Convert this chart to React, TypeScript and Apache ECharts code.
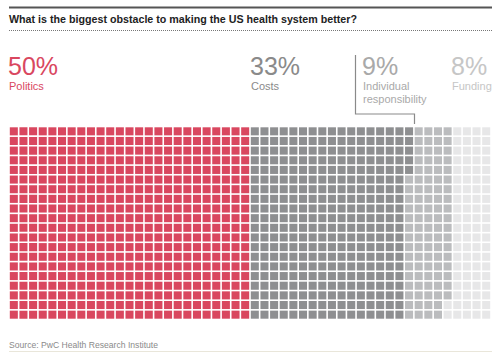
import React, { useEffect, useRef } from "react";
import * as echarts from "echarts";

const TITLE = "What is the biggest obstacle to making the US health system better?";
const SOURCE = "Source: PwC Health Research Institute";
const percents = ["50%", "33%", "9%", "8%"];
const labels = ["Politics", "Costs", "Individual\nresponsibility", "Funding"];
const cellCounts = [500, 325, 93, 82];
const cellColors = ["#d9475f", "#8e8f91", "#bbbcbe", "#e7e7e8"];
const textColors = ["#d9475f", "#8a8a8a", "#a9a9a9", "#c6c6c6"];
const labelX = [9, 251, 363, 452];
const COLS = 50;
const ROWS = 20;

const colNames = Array.from({ length: COLS }, (_, i) => String(i));
const rowNames = Array.from({ length: ROWS }, (_, i) => String(i));

export default function App() {
  const ref = useRef<HTMLDivElement>(null);
  useEffect(() => {
    if (!ref.current) return;
    const chart = echarts.init(ref.current, null, { renderer: "svg" });
    const cells: number[][] = [];
    let idx = 0;
    cellCounts.forEach((n, k) => {
      for (let j = 0; j < n; j++) {
        cells.push([Math.floor(idx / ROWS), idx % ROWS, k]);
        idx++;
      }
    });
    const font = "'Liberation Sans', Arial, Helvetica, sans-serif";
    const graphics: any[] = [
      { type: "line", shape: { x1: 9, y1: 7.5, x2: 492, y2: 7.5 }, style: { stroke: "#555", lineWidth: 2 } },
      { type: "text", x: 9, y: 19, style: { text: TITLE, font: `bold 10.7px ${font}`, fill: "#222", textVerticalAlign: "middle" } },
      { type: "line", shape: { x1: 9, y1: 30.5, x2: 492, y2: 30.5 }, style: { stroke: "#777", lineWidth: 1, lineDash: [1, 1] } },
      { type: "polyline", shape: { points: [[355.5, 55], [355.5, 114], [414.5, 114], [414.5, 124]] }, style: { stroke: "#8a8a8a", lineWidth: 1.2, fill: "none" } },
      { type: "text", x: 9, y: 345, style: { text: SOURCE, font: `8.6px ${font}`, fill: "#8a8a8a", textVerticalAlign: "middle" } },
      { type: "line", shape: { x1: 9, y1: 351.5, x2: 492, y2: 351.5 }, style: { stroke: "#e9e6da", lineWidth: 1 } },
    ];
    percents.forEach((p, k) => {
      graphics.push({ type: "text", x: labelX[k] - 1, y: 66, style: { text: p, font: `25px ${font}`, fill: textColors[k], textVerticalAlign: "middle" } });
      graphics.push({ type: "text", x: labelX[k], y: 79.5, style: { text: labels[k], font: `11px ${font}`, fill: textColors[k], lineHeight: 13, textVerticalAlign: "top" } });
    });
    chart.setOption({
      animation: false,
      grid: { left: 9, top: 126.5, width: 482, height: 193 },
      xAxis: { type: "category", data: colNames, show: false },
      yAxis: { type: "category", data: rowNames, show: false, inverse: true },
      graphic: graphics,
      series: [
        {
          type: "custom",
          data: cells,
          renderItem: (params: any, api: any) => {
            const c = api.coord([api.value(0), api.value(1)]);
            const s = api.size([1, 1]);
            const gap = 1.6;
            return {
              type: "rect",
              shape: { x: c[0] - s[0] / 2 + gap / 2, y: c[1] - s[1] / 2 + gap / 2, width: s[0] - gap, height: s[1] - gap },
              style: { fill: cellColors[api.value(2)] },
            };
          },
        },
      ],
    });
    return () => chart.dispose();
  }, []);
  return <div ref={ref} style={{ position: "fixed", left: 0, top: 0, width: 500, height: 354, background: "#fff" }} />;
}
